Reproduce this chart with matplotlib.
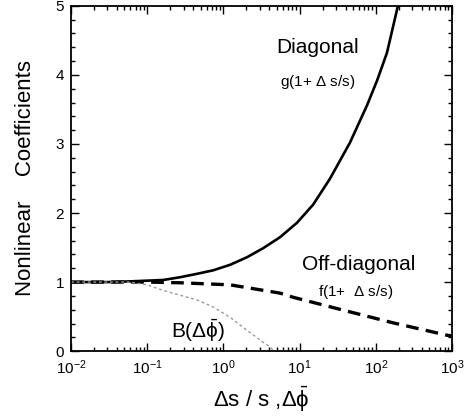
import numpy as np
import matplotlib
matplotlib.use("Agg")
import matplotlib.pyplot as plt
from matplotlib.ticker import MultipleLocator, LogLocator

plt.rcParams['font.family'] = ['Liberation Sans', 'DejaVu Sans']
plt.rcParams['mathtext.fontset'] = 'custom'
plt.rcParams['mathtext.rm'] = 'Liberation Sans'
plt.rcParams['mathtext.it'] = 'Liberation Sans:italic'

# ---- data ----
# Diagonal coefficient g(1 + ds/s)
diag_x = [0.01, 0.03, 0.059, 0.161, 0.269, 0.451, 0.731, 1.22, 2.04, 3.31, 5.53, 9.25,
          15.0, 25.1, 45.8, 76.7, 104, 140, 195]
diag_y = [1.0, 1.0, 1.01, 1.03, 1.07, 1.12, 1.17, 1.25, 1.36, 1.49, 1.65, 1.86,
          2.12, 2.50, 3.02, 3.56, 3.92, 4.32, 5.0]

# Off-diagonal coefficient f(1 + ds/s)
offd_x = [0.01, 0.1, 0.269, 1.22, 5.53, 8.2, 30, 168, 860, 1000]
offd_y = [1.0, 1.0, 0.99, 0.96, 0.84, 0.78, 0.62, 0.41, 0.23, 0.22]

# B(d phi)
b_x = [0.01, 0.03, 0.059, 0.099, 0.161, 0.269, 0.451, 0.731, 1.22, 2.04, 3.31, 4.1, 4.6]
b_y = [1.0, 1.0, 1.0, 0.96, 0.88, 0.81, 0.74, 0.64, 0.49, 0.30, 0.13, 0.06, 0.0]

fig = plt.figure(figsize=(4.65, 4.2), dpi=100)
ax = fig.add_axes([0.153, 0.164, 0.819, 0.822])

ax.plot(diag_x, diag_y, color='black', lw=1.9, solid_capstyle='round')
ax.plot(offd_x, offd_y, color='black', lw=2.4, linestyle=(0, (3.8, 2.2)))
ax.plot(b_x, b_y, color='#999999', lw=1.0, linestyle=(0, (2, 2)))

ax.set_xscale('log')
ax.set_xlim(1e-2, 1e3)
ax.set_ylim(0, 5)
ax.yaxis.set_major_locator(MultipleLocator(1))
ax.yaxis.set_minor_locator(MultipleLocator(0.2))
ax.xaxis.set_major_locator(LogLocator(base=10))
ax.xaxis.set_minor_locator(LogLocator(base=10, subs=np.arange(2, 10)))

ax.tick_params(which='both', direction='in', top=True, right=True, labelsize=11, width=1.0)
ax.tick_params(which='major', length=6, pad=5)
ax.tick_params(which='minor', length=3)
for s in ax.spines.values():
    s.set_linewidth(1.3)

ax.text(17, 4.39, 'Diagonal', fontsize=15, ha='center', va='center')
ax.text(17, 3.9, r'g(1+ $\Delta$ s/s)', fontsize=11, ha='center', va='center')
ax.text(59, 1.25, 'Off-diagonal', fontsize=15, ha='center', va='center')
ax.text(54, 0.855, r'f(1+  $\Delta$ s/s)', fontsize=11, ha='center', va='center')
ax.text(0.46, 0.30, r'B($\Delta\bar{\mathrm{\phi}}$)', fontsize=15, ha='center', va='center')

ax.set_xlabel(r'$\Delta$s / s ,$\Delta\bar{\mathrm{\phi}}$', fontsize=16, labelpad=6)
ax.set_ylabel('Nonlinear    Coefficients', fontsize=16, labelpad=14)

fig.savefig('out.png', dpi=100)
